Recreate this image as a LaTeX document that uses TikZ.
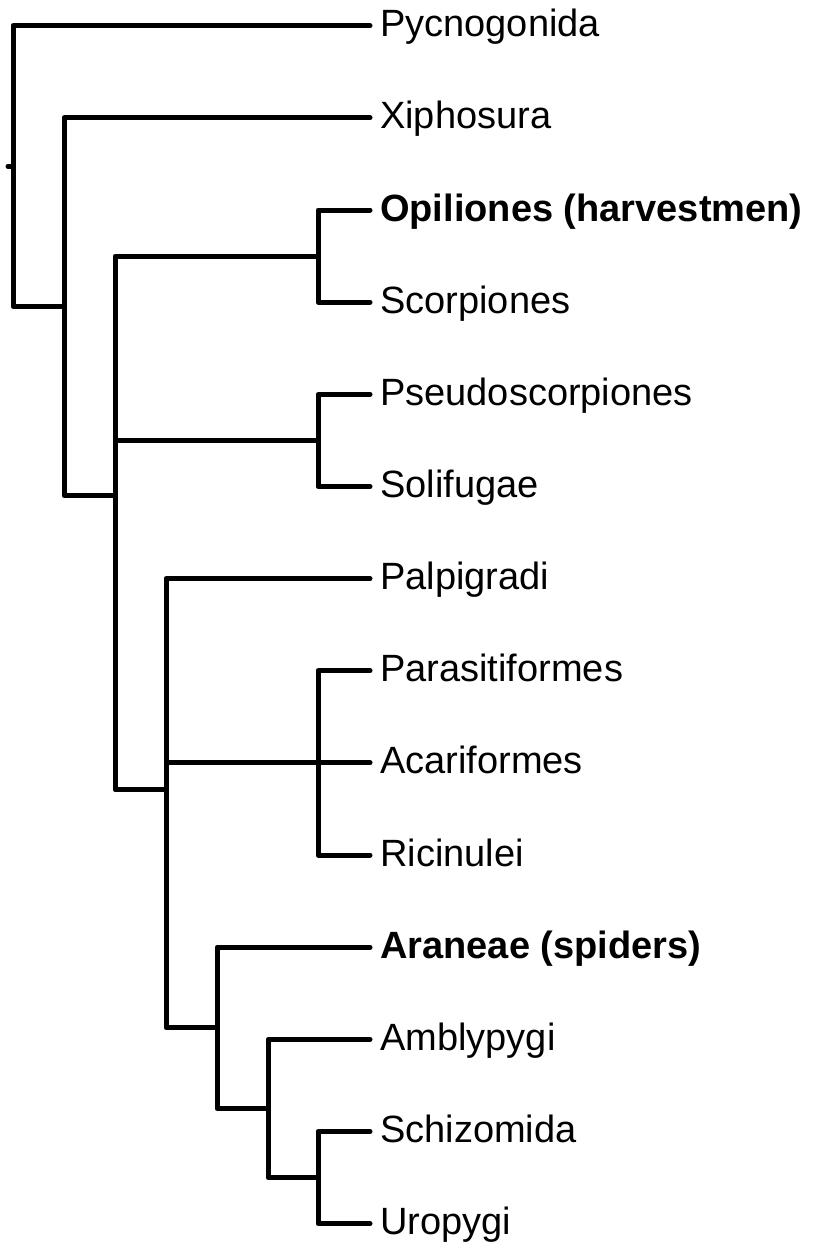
\documentclass[tikz,border=0pt]{standalone}
\usepackage{fontspec}
\setmainfont{Liberation Sans}
\begin{document}
\begin{tikzpicture}[x=1pt,y=-1pt,
  branch/.style={line width=5pt,line cap=round,line join=round,black},
  taxon/.style={anchor=base west,inner sep=0pt,font=\fontsize{38}{44}\selectfont},
  boldtaxon/.style={taxon,font=\fontsize{38}{44}\selectfont\bfseries}]
\useasboundingbox (0,0) rectangle (812,1244);
% leaf line ends
\foreach \n/\i in {P/0,X/1,O/2,Sc/3,Ps/4,So/5,Pa/6,Pr/7,Ac/8,Ri/9,Ar/10,Am/11,Sz/12,U/13}
  \coordinate (\n) at (370,25.7+92.15*\i);
% labels (baseline about 11 below the branch)
\node[taxon] (tP) at (380,36.7) {Pycnogonida};
\node[taxon] (tX) at (380,128.85) {Xiphosura};
\node[boldtaxon] (tO) at (380,221) {Opiliones (harvestmen)};
\node[taxon] (tSc) at (380,313.15) {Scorpiones};
\node[taxon] (tPs) at (380,405.3) {Pseudoscorpiones};
\node[taxon] (tSo) at (380,497.45) {Solifugae};
\node[taxon] (tPa) at (380,589.6) {Palpigradi};
\node[taxon] (tPr) at (380,681.75) {Parasitiformes};
\node[taxon] (tAc) at (380,773.9) {Acariformes};
\node[taxon] (tRi) at (380,866.05) {Ricinulei};
\node[boldtaxon] (tAr) at (380,958.2) {Araneae (spiders)};
\node[taxon] (tAm) at (380,1050.35) {Amblypygi};
\node[taxon] (tSz) at (380,1142.5) {Schizomida};
\node[taxon] (tU) at (380,1234.65) {Uropygi};
% internal nodes
\coordinate (nOS) at (318,256.1);
\coordinate (nPS) at (318,440.4);
\coordinate (nPAR) at (318,762.9);
\coordinate (nSU) at (318,1177.6);
\coordinate (nAmb) at (268,1108.5);
\coordinate (nAr) at (217,1027.8);
\coordinate (n166) at (166,789.8);
\coordinate (n115) at (115,495.4);
\coordinate (n64) at (64,306.6);
\coordinate (root) at (13,166.2);
\coordinate (stub) at (8,166.2);
% branches
\draw[branch] (stub) -- (root);
\draw[branch] (root) |- (P);
\draw[branch] (root) |- (n64);
\draw[branch] (n64) |- (X);
\draw[branch] (n64) |- (n115);
\draw[branch] (n115) |- (nOS);
\draw[branch] (n115) |- (nPS);
\draw[branch] (n115) |- (n166);
\draw[branch] (nOS) |- (O);
\draw[branch] (nOS) |- (Sc);
\draw[branch] (nPS) |- (Ps);
\draw[branch] (nPS) |- (So);
\draw[branch] (n166) |- (Pa);
\draw[branch] (n166) |- (nPAR);
\draw[branch] (n166) |- (nAr);
\draw[branch] (nPAR) |- (Pr);
\draw[branch] (nPAR) |- (Ac);
\draw[branch] (nPAR) |- (Ri);
\draw[branch] (nAr) |- (Ar);
\draw[branch] (nAr) |- (nAmb);
\draw[branch] (nAmb) |- (Am);
\draw[branch] (nAmb) |- (nSU);
\draw[branch] (nSU) |- (Sz);
\draw[branch] (nSU) |- (U);
\end{tikzpicture}
\end{document}
